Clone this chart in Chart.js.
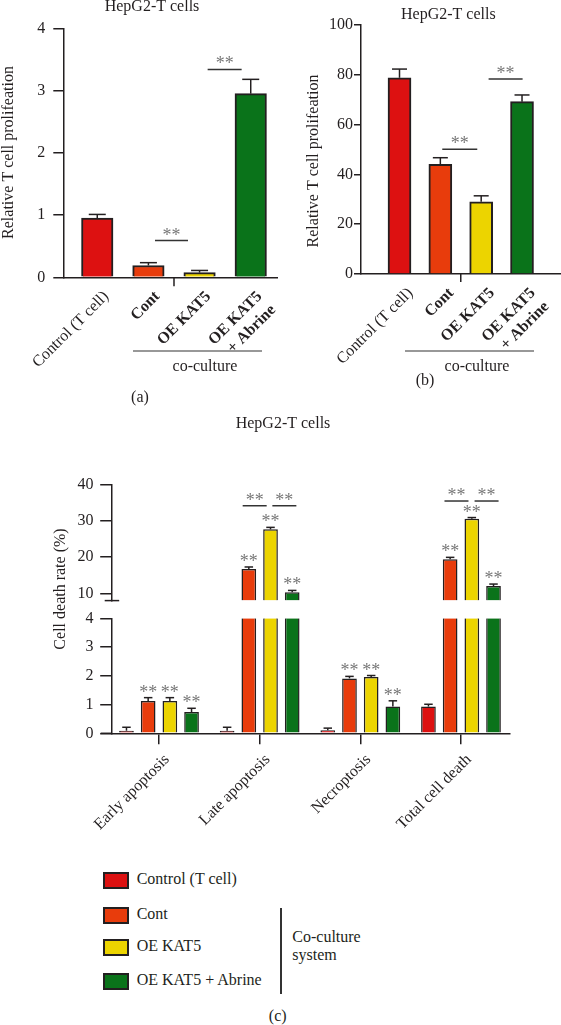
<!DOCTYPE html>
<html>
<head>
<meta charset="utf-8">
<title>HepG2-T cells</title>
<script src="https://cdn.jsdelivr.net/npm/chart.js@4.4.1/dist/chart.umd.min.js"></script>
<style>
  body { margin: 0; width: 561px; height: 1025px; background: #fff; position: relative; overflow: hidden;
         font-family: "Liberation Serif", "Times New Roman", serif; color: #231f20; }
  canvas { position: absolute; }
  #panelA { left: 0; top: 0; }
  #panelB { left: 280px; top: 0; }
  #panelCTop, #panelCBottom { left: 0; top: 415px; }
  .key { position: absolute; font-size: 16px; line-height: 20px; white-space: nowrap; }
  .swatch { position: absolute; width: 22px; height: 13px; border: 2px solid #231f20; }
</style>
</head>
<body>
<canvas id="panelA" width="280" height="410"></canvas>
<canvas id="panelB" width="281" height="410"></canvas>
<canvas id="panelCTop" width="561" height="445"></canvas>
<canvas id="panelCBottom" width="561" height="445"></canvas>
<div id="legend"></div>
<script>
// panels (a) and (b): relative T cell proliferation
const groups = ['Control (T cell)', 'Cont', 'OE KAT5', ['OE KAT5', '+ Abrine']];
const prolifA = [0.95, 0.19, 0.075, 2.95];
const prolifAErr = [0.06, 0.045, 0.035, 0.23];
const prolifB = [78.8, 44.0, 29.0, 69.2];
const prolifBErr = [3.5, 2.7, 2.4, 2.7];
const ticksA = [0, 1, 2, 3, 4];
const ticksB = [0, 20, 40, 60, 80, 100];

// panel (c): cell death rate (%)
const deathTypes = ['Early apoptosis', 'Late apoptosis', 'Necroptosis', 'Total cell death'];
const seriesNames = ['Control (T cell)', 'Cont', 'OE KAT5', 'OE KAT5 + Abrine'];
const deathControl = [0.09, 0.09, 0.11, 0.93];
const deathControlErr = [0.12, 0.12, 0.07, 0.08];
const deathCont = [1.12, 16.7, 1.91, 19.4];
const deathContErr = [0.12, 0.55, 0.07, 0.5];
const deathOE = [1.12, 27.6, 1.96, 30.5];
const deathOEErr = [0.12, 0.55, 0.05, 0.35];
const deathAbrine = [0.74, 10.3, 0.93, 12.0];
const deathAbrineErr = [0.13, 0.5, 0.2, 0.55];
const ticksCUpper = [10, 20, 30, 40];
const ticksCLower = [0, 1, 2, 3, 4];
const upperMin = 8, upperMax = 40, lowerMax = 4;

const colors = ['#dd1111', '#e83c0c', '#ecd400', '#0a731a'];
const INK = '#231f20';
const STAR = '#777';
const FAMILY = '"Liberation Serif", "Times New Roman", serif';

Chart.defaults.font.family = FAMILY;
Chart.defaults.font.size = 16;
Chart.defaults.color = INK;

const deathSeries = [deathControl, deathCont, deathOE, deathAbrine];
const deathErrors = [deathControlErr, deathContErr, deathOEErr, deathAbrineErr];

function drawStars(ctx, x, y) {
  ctx.save();
  ctx.fillStyle = STAR;
  ctx.font = '18px ' + FAMILY;
  ctx.textAlign = 'center';
  ctx.textBaseline = 'alphabetic';
  ctx.fillText('**', x, y);
  ctx.restore();
}

function strokeLine(ctx, x1, y1, x2, y2, w, c) {
  ctx.save();
  ctx.strokeStyle = c || INK;
  ctx.lineWidth = w;
  ctx.beginPath();
  ctx.moveTo(x1, y1);
  ctx.lineTo(x2, y2);
  ctx.stroke();
  ctx.restore();
}

// error bars, significance marks and the loose text around each panel
const extras = {
  id: 'extras',
  afterDatasetsDraw(chart, args, o) {
    const ctx = chart.ctx;
    const ys = chart.scales.y;
    (o.errorSets || []).forEach(set => {
      const meta = chart.getDatasetMeta(set.dataset);
      set.values.forEach((v, i) => {
        if (set.visible && !set.visible(v)) return;
        const bx = meta.data[i].x;
        const top = ys.getPixelForValue(v + set.errors[i]);
        const base = ys.getPixelForValue(v);
        strokeLine(ctx, bx, base, bx, top, o.errLine);
        strokeLine(ctx, bx - o.cap / 2, top, bx + o.cap / 2, top, o.errLine);
        if (set.stars) drawStars(ctx, bx, top);
      });
    });
    (o.brackets || []).forEach(b => {
      const x1 = chart.getDatasetMeta(b.from[0]).data[b.from[1]].x;
      const x2 = chart.getDatasetMeta(b.to[0]).data[b.to[1]].x;
      const mid = (x1 + x2) / 2 + b.shift;
      const yy = ys.getPixelForValue(b.level);
      strokeLine(ctx, mid - b.half, yy, mid + b.half, yy, 1.5, '#333');
      drawStars(ctx, mid, yy);
    });
  },
  afterDraw(chart, args, o) {
    const ctx = chart.ctx;
    const area = chart.chartArea;
    if (o.centerTick !== undefined) {
      const tx = chart.scales.x.getPixelForValue(o.centerTick);
      strokeLine(ctx, tx, area.bottom, tx, area.bottom + o.centerTickLen, 1.5);
    }
    if (o.breakMark) {
      const by = chart.scales.y.getPixelForValue(chart.scales.y.min);
      strokeLine(ctx, area.left - 7, by, area.left + 7.5, by, 1.5);
    }
    if (o.axisStub) {
      strokeLine(ctx, area.left - o.axisStub, area.bottom, area.left, area.bottom, 1.5);
    }
    (o.lines || []).forEach(l => strokeLine(ctx, l[0], l[1], l[2], l[3], l[4] || 1.2, '#333'));
    (o.texts || []).forEach(t => {
      ctx.save();
      ctx.fillStyle = INK;
      ctx.font = '16px ' + FAMILY;
      ctx.textAlign = 'center';
      ctx.textBaseline = t.baseline || 'middle';
      ctx.translate(t.x, t.y);
      if (t.rotate) ctx.rotate(-Math.PI / 2);
      ctx.fillText(t.text, 0, 0);
      ctx.restore();
    });
  }
};

function groupAxis(min, max, height, labels, tickOpts, grid) {
  return {
    type: 'linear', min, max, offset: false,
    afterBuildTicks: s => { s.ticks = labels.map((_, i) => ({ value: i })); },
    afterFit: s => { s.height = height; },
    grid: Object.assign({ display: false, offset: false }, grid),
    border: { color: INK, width: 1.5 },
    ticks: Object.assign({
      autoSkip: false, minRotation: 45, maxRotation: 45, color: INK,
      callback: v => labels[v]
    }, tickOpts)
  };
}

function valueAxis(min, max, tickValues, width, tickLength, pad) {
  return {
    type: 'linear', min, max,
    afterBuildTicks: s => { s.ticks = tickValues.map(v => ({ value: v })); },
    afterFit: s => { s.width = width; },
    grid: { drawOnChartArea: false, tickLength, color: INK, lineWidth: 1.5 },
    border: { color: INK, width: 1.5 },
    ticks: { padding: pad, color: INK, font: { size: 16 } }
  };
}

const common = {
  responsive: false,
  devicePixelRatio: 1,
  animation: false,
  events: []
};

const groupFont = c => ({ size: 16, weight: c.index === 0 ? 'normal' : 'bold' });

// (a)
new Chart(document.getElementById('panelA'), {
  type: 'bar',
  data: {
    datasets: [{
      data: prolifA.map((v, i) => ({ x: i, y: v })),
      backgroundColor: colors, borderColor: INK, borderWidth: 2, barThickness: 31.5
    }]
  },
  options: Object.assign({}, common, {
    layout: { padding: { top: 28.3, right: 1, bottom: 0, left: 0 } },
    scales: {
      x: groupAxis(-0.664, 3.524, 132.7, groups, { labelOffset: 9, padding: 2, font: groupFont }),
      y: valueAxis(0, 4, ticksA, 63.3, 10, 8)
    },
    plugins: {
      legend: { display: false }, tooltip: { enabled: false },
      extras: {
        errLine: 1.5, cap: 17,
        errorSets: [{ dataset: 0, values: prolifA, errors: prolifAErr }],
        brackets: [
          { from: [0, 1], to: [0, 2], level: 0.59, shift: -2.5, half: 16.5 },
          { from: [0, 2], to: [0, 3], level: 3.34, shift: -0.5, half: 17 }
        ],
        centerTick: 1.5, centerTickLen: 9,
        lines: [[133, 351, 262, 351]],
        texts: [
          { text: 'HepG2-T cells', x: 152, y: 11, baseline: 'alphabetic' },
          { text: 'Relative T cell prolifeation', x: 8.5, y: 152.5, rotate: true },
          { text: 'co-culture', x: 205, y: 367 },
          { text: '(a)', x: 140, y: 398 }
        ]
      }
    }
  }),
  plugins: [extras]
});

// (b)
new Chart(document.getElementById('panelB'), {
  type: 'bar',
  data: {
    datasets: [{
      data: prolifB.map((v, i) => ({ x: i, y: v })),
      backgroundColor: colors, borderColor: INK, borderWidth: 2, barThickness: 23
    }]
  },
  options: Object.assign({}, common, {
    layout: { padding: { top: 25, right: 1, bottom: 0, left: 0 } },
    scales: {
      x: groupAxis(-0.943, 3.93, 136, groups, { labelOffset: 11, padding: 2, font: groupFont }),
      y: valueAxis(0, 100, ticksB, 81, 7, 1)
    },
    plugins: {
      legend: { display: false }, tooltip: { enabled: false },
      extras: {
        errLine: 1.5, cap: 15,
        errorSets: [{ dataset: 0, values: prolifB, errors: prolifBErr }],
        brackets: [
          { from: [0, 1], to: [0, 2], level: 50.1, shift: -1, half: 17.5 },
          { from: [0, 2], to: [0, 3], level: 78.3, shift: 4, half: 17 }
        ],
        centerTick: 1.5, centerTickLen: 8,
        lines: [[125, 351, 254, 351]],
        texts: [
          { text: 'HepG2-T cells', x: 168.3, y: 18.5, baseline: 'alphabetic' },
          { text: 'Relative T cell prolifeation', x: 33.3, y: 161, rotate: true },
          { text: 'co-culture', x: 197, y: 367 },
          { text: '(b)', x: 145, y: 381 }
        ]
      }
    }
  }),
  plugins: [extras]
});

// (c) upper segment of the broken axis
const cX = (height, display) => Object.assign(groupAxis(-0.47, 3.487, height, deathTypes,
  { labelOffset: 8, padding: 6, font: { size: 16 } },
  { display: true, drawOnChartArea: false, tickLength: 11, color: INK, lineWidth: 1.5 }), { display });

new Chart(document.getElementById('panelCTop'), {
  type: 'bar',
  data: {
    datasets: deathSeries.map((vals, d) => ({
      label: seriesNames[d],
      data: vals.map((v, i) => ({ x: i, y: v > upperMin ? [upperMin, v] : null })),
      backgroundColor: colors[d], borderColor: INK, borderWidth: 1.5,
      categoryPercentage: 0.862, barPercentage: 0.677
    }))
  },
  options: Object.assign({}, common, {
    layout: { padding: { top: 69.3, right: 51, bottom: 259.4, left: 0 } },
    scales: {
      x: cX(0, false),
      y: valueAxis(upperMin, upperMax, ticksCUpper, 111.7, 11.5, 6.7)
    },
    plugins: {
      legend: { display: false }, tooltip: { enabled: false },
      extras: {
        errLine: 1.5, cap: 8.5,
        errorSets: deathSeries.map((vals, d) => ({
          dataset: d, values: vals, errors: deathErrors[d], stars: d > 0, visible: v => v > upperMin
        })),
        brackets: [
          { from: [1, 1], to: [2, 1], level: 34.1, shift: -5, half: 12 },
          { from: [2, 1], to: [3, 1], level: 34.1, shift: 3, half: 12 },
          { from: [1, 3], to: [2, 3], level: 35.4, shift: -4.5, half: 12 },
          { from: [2, 3], to: [3, 3], level: 35.4, shift: 3.9, half: 12 }
        ],
        breakMark: true,
        texts: [{ text: 'HepG2-T cells', x: 283, y: 13, baseline: 'alphabetic' }]
      }
    }
  }),
  plugins: [extras]
});

// (c) lower segment of the broken axis
new Chart(document.getElementById('panelCBottom'), {
  type: 'bar',
  data: {
    datasets: deathSeries.map((vals, d) => ({
      label: seriesNames[d],
      data: vals.map((v, i) => ({ x: i, y: Math.min(v, lowerMax) })),
      backgroundColor: colors[d], borderColor: INK,
      borderWidth: c => vals[c.dataIndex] > lowerMax ? { left: 1.5, right: 1.5, top: 0, bottom: 0 } : 1.5,
      categoryPercentage: 0.862, barPercentage: 0.677
    }))
  },
  options: Object.assign({}, common, {
    layout: { padding: { top: 203.3, right: 51, bottom: 0, left: 0 } },
    scales: {
      x: cX(126.7, true),
      y: valueAxis(0, lowerMax, ticksCLower, 111.7, 11.5, 6.7)
    },
    plugins: {
      legend: { display: false }, tooltip: { enabled: false },
      extras: {
        errLine: 1.5, cap: 8.5,
        errorSets: deathSeries.map((vals, d) => ({
          dataset: d, values: vals, errors: deathErrors[d], stars: d > 0, visible: v => v <= lowerMax
        })),
        axisStub: 11,
        texts: [{ text: 'Cell death rate (%)', x: 61, y: 174, rotate: true }]
      }
    }
  }),
  plugins: [extras]
});

// legend for (c)
const legend = document.getElementById('legend');
const rowTops = [872.3, 906.7, 939, 973.3];
seriesNames.forEach((name, i) => {
  const sw = document.createElement('div');
  sw.className = 'swatch';
  sw.style.left = '103.3px';
  sw.style.top = rowTops[i] + 'px';
  sw.style.background = colors[i];
  legend.appendChild(sw);
  const tx = document.createElement('div');
  tx.className = 'key';
  tx.style.left = '136.7px';
  tx.style.top = (rowTops[i] - 3) + 'px';
  tx.textContent = name;
  legend.appendChild(tx);
});
const bar = document.createElement('div');
bar.style.cssText = 'position:absolute;left:280px;top:907.7px;width:2px;height:86.6px;background:#333';
legend.appendChild(bar);
const sys = document.createElement('div');
sys.className = 'key';
sys.style.cssText = 'left:292.3px;top:927.6px;line-height:18.5px';
sys.innerHTML = 'Co-culture<br>system';
legend.appendChild(sys);
const tag = document.createElement('div');
tag.className = 'key';
tag.style.cssText = 'left:257.7px;top:1006.3px;width:40px;text-align:center';
tag.textContent = '(c)';
legend.appendChild(tag);
</script>
</body>
</html>
